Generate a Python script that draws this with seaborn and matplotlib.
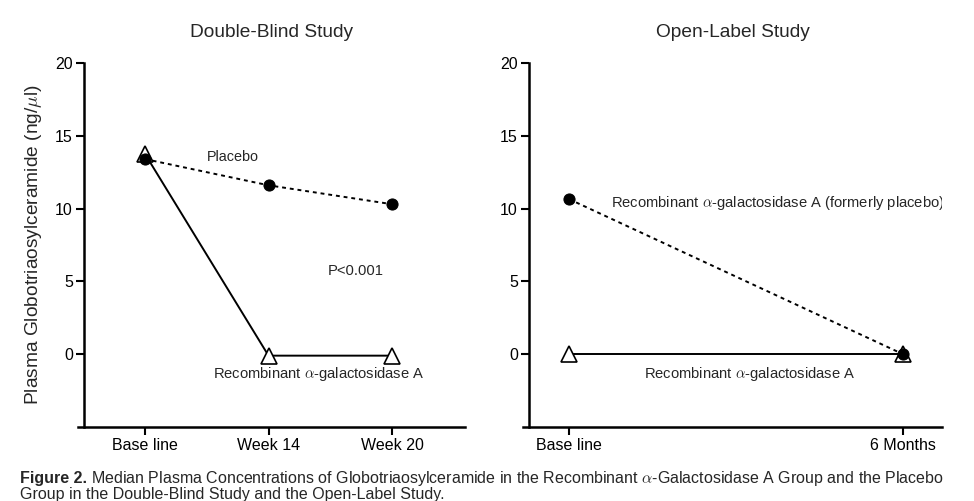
import pandas as pd
import matplotlib
matplotlib.use("Agg")
import matplotlib.pyplot as plt
import seaborn as sns

# double-blind study
db_visits = ["Base line", "Week 14", "Week 20"]
db_placebo = [13.4, 11.6, 10.3]
db_enzyme = [13.75, -0.1, -0.1]

# open-label study
ol_visits = ["Base line", "6 Months"]
ol_placebo = [10.65, 0.0]
ol_enzyme = [0.0, 0.0]

yticks = [0, 5, 10, 15, 20]

sns.set_style("ticks")
plt.rcParams["font.family"] = ["Liberation Sans", "DejaVu Sans"]
plt.rcParams["mathtext.fontset"] = "cm"

fig = plt.figure(figsize=(9.74, 5.01), dpi=100)
ax1 = fig.add_axes([0.0801, 0.1477, 0.3973, 0.7266])
ax2 = fig.add_axes([0.5370, 0.1477, 0.4302, 0.7266])


def draw(ax, visits, placebo, enzyme, xlim, spine_x):
    df = pd.DataFrame({
        "x": list(range(len(visits))) * 2,
        "y": enzyme + placebo,
        "group": ["enzyme"] * len(visits) + ["placebo"] * len(visits),
    })
    e = df[df.group == "enzyme"]
    p = df[df.group == "placebo"]
    sns.lineplot(data=e, x="x", y="y", ax=ax, color="black", lw=1.4,
                 marker="^", markersize=11, markerfacecolor="white",
                 markeredgecolor="black", markeredgewidth=1.2, zorder=3)
    sns.lineplot(data=p, x="x", y="y", ax=ax, color="black", lw=1.4,
                 linestyle=(0, (2, 2)), marker="o", markersize=8,
                 markerfacecolor="black", markeredgecolor="black", zorder=4)
    ax.set_xlim(*xlim)
    ax.set_ylim(-5, 20)
    ax.set_xticks(range(len(visits)))
    ax.set_xticklabels(visits)
    ax.set_yticks(yticks)
    ax.set_xlabel("")
    ax.set_ylabel("")
    ax.tick_params(labelsize=11.5, width=1.5, length=5.5, color="black",
                   labelcolor="black", pad=2.5)
    for s in ["top", "right"]:
        ax.spines[s].set_visible(False)
    for s in ["left", "bottom"]:
        ax.spines[s].set_linewidth(1.8)
        ax.spines[s].set_color("black")
    ax.spines["left"].set_position(("data", spine_x))


draw(ax1, db_visits, db_placebo, db_enzyme, (-0.5425, 2.591), -0.494)
draw(ax2, ol_visits, ol_placebo, ol_enzyme, (-0.1377, 1.1168), -0.1198)

ax1.set_title("Double-Blind Study", fontsize=13.8, pad=18.5)
ax2.set_title("Open-Label Study", fontsize=13.8, pad=18.5)
ax1.set_ylabel(r"Plasma Globotriaosylceramide (ng/$\mu$l)", fontsize=13.8, labelpad=8)

ax1.text(0.502, 13.55, "Placebo", fontsize=10.4, ha="left", va="center")
ax1.text(1.71, 5.7, "P<0.001", fontsize=10.6, ha="center", va="center")
ax1.text(1.405, -1.38, r"Recombinant $\alpha$-galactosidase A", fontsize=10.6,
         ha="center", va="center")
ax2.text(0.126, 10.38, r"Recombinant $\alpha$-galactosidase A (formerly placebo)",
         fontsize=10.6, ha="left", va="center", clip_on=True)
ax2.text(0.542, -1.38, r"Recombinant $\alpha$-galactosidase A", fontsize=10.6,
         ha="center", va="center")

# caption
t = fig.text(0.0205, 1 - 478 / 501, "Figure 2.", fontsize=11.5, weight="bold",
             va="center", ha="left")
fig.canvas.draw()
bb = t.get_window_extent()
fig.text(bb.x1 / fig.bbox.width + 0.004, 1 - 478 / 501,
         r"Median Plasma Concentrations of Globotriaosylceramide in the Recombinant "
         r"$\alpha$-Galactosidase A Group and the Placebo",
         fontsize=11.5, va="center", ha="left")
fig.text(0.0205, 1 - 494 / 501,
         "Group in the Double-Blind Study and the Open-Label Study.",
         fontsize=11.5, va="center", ha="left")

fig.savefig("out.png", dpi=100)
